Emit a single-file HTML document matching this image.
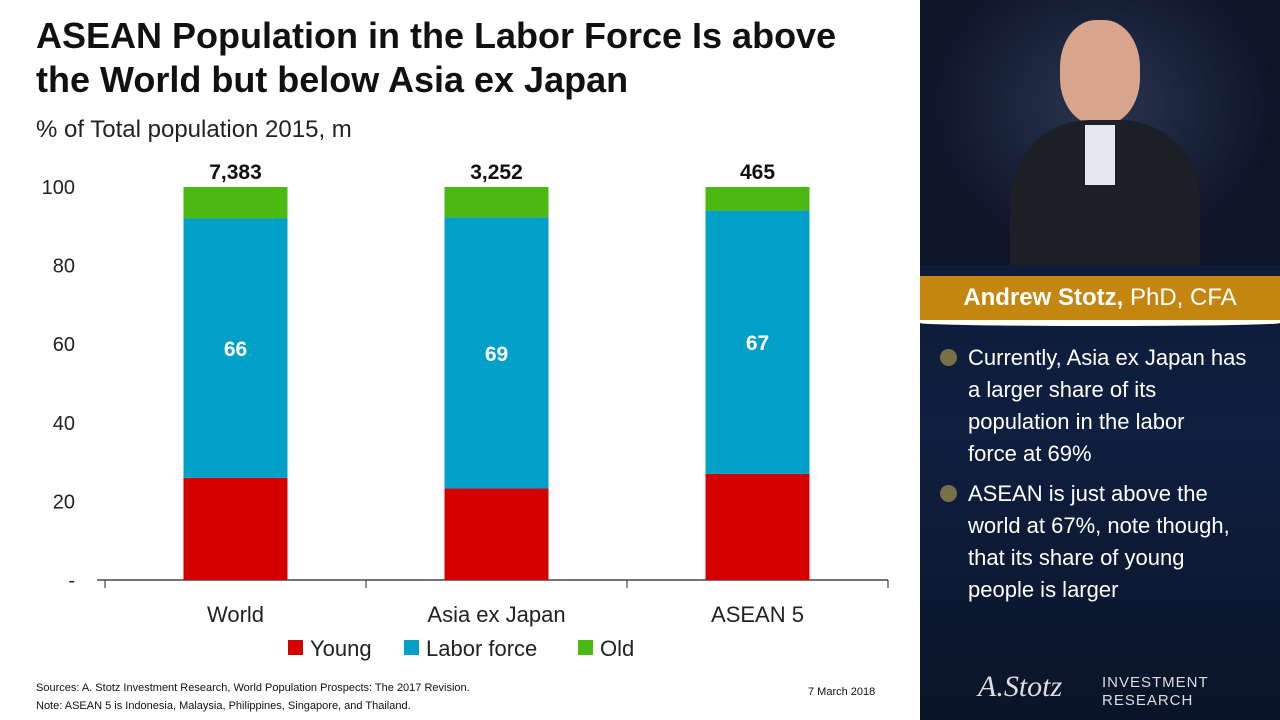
<!DOCTYPE html>
<html><head><meta charset="utf-8"><style>
body{margin:0;width:1280px;height:720px;position:relative;background:#fff;font-family:"Liberation Sans",sans-serif;overflow:hidden}
.t{position:absolute;white-space:nowrap}
</style></head><body>
<div class="t" style="left:36px;top:14px;font-size:36px;font-weight:bold;line-height:44px;color:#111">ASEAN Population in the Labor Force Is above<br>the World but below Asia ex Japan</div>
<div class="t" style="left:36px;top:116px;font-size:24px;color:#222">% of Total population 2015, m</div>
<svg id="chart" width="920" height="680" style="position:absolute;left:0;top:0"></svg>
<div class="t" style="left:36px;top:679px;font-size:11px;line-height:18px;color:#111">Sources: A. Stotz Investment Research, World Population Prospects: The 2017 Revision.<br>Note: ASEAN 5 is Indonesia, Malaysia, Philippines, Singapore, and Thailand.</div>
<div class="t" style="left:808px;top:686px;font-size:11px;color:#111">7 March 2018</div>
<div style="position:absolute;left:920px;top:0;width:360px;height:720px;background:linear-gradient(#0b1630,#0f1f3f 60%,#0a1428)">
 <div style="position:absolute;left:0;top:0;width:360px;height:265px;background:radial-gradient(ellipse at 50% 40%,#2a3550,#0c1428 70%)">
  <div style="position:absolute;left:140px;top:20px;width:80px;height:105px;border-radius:45%;background:#d9a48c"></div>
  <div style="position:absolute;left:90px;top:120px;width:190px;height:145px;border-radius:80px 80px 0 0;background:#1c1f26"></div>
  <div style="position:absolute;left:165px;top:125px;width:30px;height:60px;background:#e6e8ee"></div>
 </div>
 <div style="position:absolute;left:0;top:276px;width:360px;height:44px;background:#c4860e;color:#fff;font-size:24px;line-height:44px;text-align:center"><b>Andrew Stotz,</b> PhD, CFA</div>
 <div style="position:absolute;left:0;top:320px;width:360px;height:6px;background:#fff;border-radius:0 0 50% 50%"></div>
 <div class="t" style="left:48px;top:342px;font-size:22px;line-height:32px;color:#fff">Currently, Asia ex Japan has<br>a larger share of its<br>population in the labor<br>force at 69%</div>
 <div class="t" style="left:48px;top:478px;font-size:22px;line-height:32px;color:#fff">ASEAN is just above the<br>world at 67%, note though,<br>that its share of young<br>people is larger</div>
 <div style="position:absolute;left:20px;top:349px;width:17px;height:17px;border-radius:50%;background:#7a7046"></div>
 <div style="position:absolute;left:20px;top:485px;width:17px;height:17px;border-radius:50%;background:#7a7046"></div>
 <div class="t" style="left:58px;top:670px;font-size:30px;font-style:italic;font-family:'Liberation Serif',serif;color:#ddd">A.Stotz</div>
 <div class="t" style="left:182px;top:674px;font-size:15px;line-height:18px;color:#ddd;letter-spacing:1px">INVESTMENT<br>RESEARCH</div>
</div>
<script>
const categories=["World","Asia ex Japan","ASEAN 5"];
const totals=["7,383","3,252","465"];
const young=[26,23.3,27];
const labor=[66,69,67];
const old=[8,7.7,6];
const yTicks=[0,20,40,60,80,100];
const yTickLabels=["-","20","40","60","80","100"];
const svg=document.getElementById('chart');const NS='http://www.w3.org/2000/svg';
const x0=105,x1=888,yb=580,yt=187;
const y=v=>yb-(yb-yt)*v/100;
const bw=(x1-x0)/categories.length;
function mk(t,a,txt){const e=document.createElementNS(NS,t);for(const k in a)e.setAttribute(k,a[k]);if(txt!=null)e.textContent=txt;svg.appendChild(e);return e;}
yTicks.forEach((v,i)=>{const e=mk('text',{x:75,y:y(v)+7,'text-anchor':'end','font-size':20,fill:'#222'},yTickLabels[i]);

});
const ax=mk('line',{x1:97,x2:x1,y1:yb,y2:yb,stroke:'#222','stroke-width':1.3});


for(let i=0;i<=categories.length;i++)mk('line',{x1:x0+bw*i,x2:x0+bw*i,y1:yb,y2:yb+8,stroke:'#222'});
categories.forEach((c,i)=>{const cx=x0+bw*(i+0.5),w=104,l=cx-w/2;
const segs=[[0,young[i],'#d40000','bar-young'],[young[i],young[i]+labor[i],'#00a0c8','bar-labor'],[young[i]+labor[i],young[i]+labor[i]+old[i],'#4cb812','bar-old']];
segs.forEach(s=>{const r=mk('rect',{x:l,y:y(s[1]),width:w,height:y(s[0])-y(s[1]),fill:s[2]});

});
const lv=mk('text',{x:cx,y:y(young[i]+labor[i]/2)+8,'text-anchor':'middle','font-size':21,'font-weight':'bold',fill:'#fff'},labor[i]);


const tv=mk('text',{x:cx,y:y(100)-8,'text-anchor':'middle','font-size':21,'font-weight':'bold',fill:'#111'},totals[i]);


const cl=mk('text',{x:cx,y:622,'text-anchor':'middle','font-size':22,fill:'#222'},c);

});
[['Young','#d40000',288],['Labor force','#00a0c8',404],['Old','#4cb812',578]].forEach(L=>{
const r=mk('rect',{x:L[2],y:640,width:15,height:15,fill:L[1]});


const t=mk('text',{x:L[2]+22,y:656,'font-size':22,fill:'#222'},L[0]);

});
</script>
</body></html>
